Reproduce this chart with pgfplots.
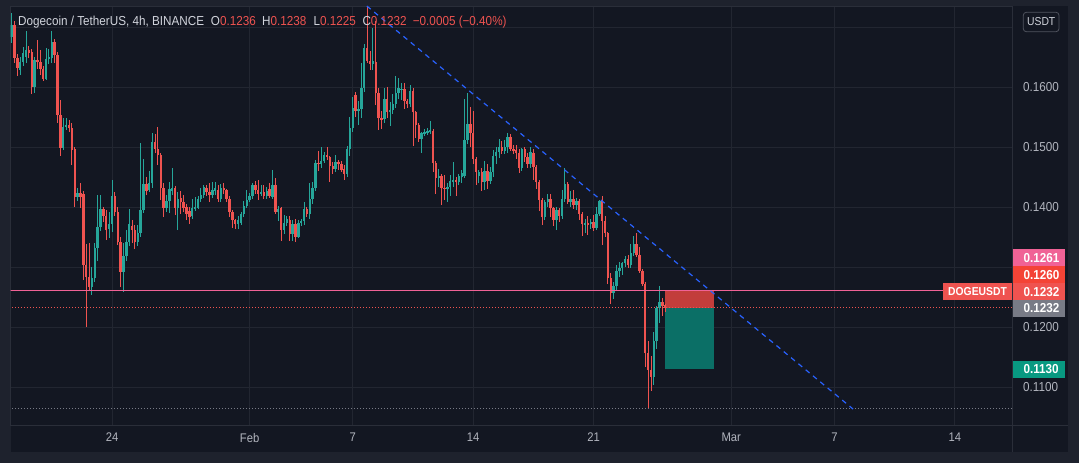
\documentclass[border=0pt]{standalone}
\usepackage{pgfplots}
\pgfplotsset{compat=1.18}
\usepackage{pgfplotstable}
\usepackage{fontspec}
\setmainfont{Liberation Sans}[FakeStretch=0.9]
\definecolor{outerbg}{HTML}{1E222D}
\definecolor{chartbg}{HTML}{131722}
\definecolor{gridc}{HTML}{222631}
\definecolor{sepc}{HTML}{2A2E39}
\definecolor{upc}{HTML}{26A69A}
\definecolor{dnc}{HTML}{EF5350}
\definecolor{txt}{HTML}{D1D4DC}
\definecolor{axtxt}{HTML}{B2B5BE}
\definecolor{pinkc}{HTML}{F06296}
\definecolor{stopc}{HTML}{F44336}
\definecolor{grayc}{HTML}{787B86}
\definecolor{tealc}{HTML}{089981}
\definecolor{redbox}{HTML}{C23D3B}
\definecolor{tealbox}{HTML}{0B6F66}
\definecolor{trendc}{HTML}{2962FF}
\definecolor{btnc}{HTML}{50535E}

\pgfplotstableread{
k o h l c
-35 0.1684 0.1723 0.1674 0.1703
-32 0.1628 0.1650 0.1620 0.1642
-31 0.1642 0.1667 0.1635 0.1656
-30 0.1650 0.1694 0.1640 0.1661
-27 0.1600 0.1650 0.1590 0.1645
-23 0.1614 0.1665 0.1611 0.1647
-22 0.1647 0.1663 0.1638 0.1650
-21 0.1648 0.1693 0.1640 0.1675
-17 0.1498 0.1548 0.1495 0.1534
-16 0.1534 0.1548 0.1528 0.1537
-12 0.1417 0.1432 0.1410 0.1424
-7 0.1266 0.1300 0.1253 0.1281
-6 0.1281 0.1340 0.1275 0.1331
-5 0.1331 0.1420 0.1310 0.1366
-4 0.1366 0.1420 0.1360 0.1396
-1 0.1363 0.1392 0.1349 0.1372
0 0.1372 0.1445 0.1358 0.1418
4 0.1292 0.1340 0.1258 0.1318
5 0.1318 0.1361 0.1310 0.1342
6 0.1342 0.1397 0.1335 0.1372
9 0.1342 0.1370 0.1335 0.1356
10 0.1356 0.1506 0.1350 0.1395
11 0.1395 0.1480 0.1390 0.1438
13 0.1428 0.1460 0.1425 0.1440
14 0.1440 0.1524 0.1432 0.1508
19 0.1398 0.1420 0.1391 0.1410
20 0.1410 0.1441 0.1390 0.1430
21 0.1426 0.1465 0.1420 0.1432
23 0.1398 0.1425 0.1362 0.1413
28 0.1385 0.1413 0.1380 0.1398
29 0.1398 0.1416 0.1393 0.1400
30 0.1399 0.1418 0.1397 0.1413
31 0.1413 0.1432 0.1408 0.1420
32 0.1420 0.1437 0.1415 0.1433
35 0.1420 0.1442 0.1415 0.1428
36 0.1427 0.1441 0.1420 0.1431
38 0.1413 0.1438 0.1408 0.1431
44 0.1372 0.1385 0.1364 0.1379
45 0.1374 0.1392 0.1370 0.1388
46 0.1388 0.1410 0.1383 0.1402
47 0.1402 0.1428 0.1398 0.1412
48 0.1412 0.1423 0.1408 0.1418
49 0.1418 0.1440 0.1414 0.1437
52 0.1421 0.1436 0.1418 0.1425
54 0.1418 0.1433 0.1414 0.1427
56 0.1417 0.1462 0.1413 0.1437
58 0.1391 0.1402 0.1377 0.1397
60 0.1362 0.1387 0.1355 0.1373
61 0.1373 0.1385 0.1368 0.1380
63 0.1355 0.1378 0.1343 0.1372
65 0.1350 0.1378 0.1348 0.1373
66 0.1373 0.1380 0.1368 0.1376
67 0.1376 0.1408 0.1370 0.1397
69 0.1388 0.1440 0.1380 0.1413
70 0.1413 0.1442 0.1405 0.1432
71 0.1432 0.1478 0.1426 0.1473
73 0.1472 0.1500 0.1465 0.1477
74 0.1477 0.1492 0.1474 0.1487
78 0.1463 0.1487 0.1458 0.1475
82 0.1455 0.1502 0.1450 0.1497
83 0.1497 0.1550 0.1485 0.1532
84 0.1532 0.1583 0.1525 0.1565
86 0.1560 0.1577 0.1537 0.1564
87 0.1564 0.1640 0.1548 0.1598
88 0.1598 0.1672 0.1592 0.1665
91 0.1639 0.1698 0.1628 0.1643
95 0.1547 0.1598 0.1540 0.1580
97 0.1558 0.1575 0.1535 0.1562
98 0.1562 0.1588 0.1555 0.1572
99 0.1572 0.1618 0.1565 0.1590
100 0.1590 0.1615 0.1580 0.1598
101 0.1595 0.1607 0.1579 0.1597
104 0.1571 0.1604 0.1567 0.1593
108 0.1513 0.1525 0.1490 0.1523
109 0.1523 0.1530 0.1518 0.1525
110 0.1524 0.1532 0.1520 0.1526
111 0.1526 0.1543 0.1522 0.1528
114 0.1448 0.1463 0.1433 0.1451
117 0.1431 0.1440 0.1409 0.1434
118 0.1434 0.1453 0.1418 0.1443
119 0.1443 0.1475 0.1433 0.1445
121 0.1441 0.1455 0.1436 0.1452
122 0.1450 0.1462 0.1440 0.1456
123 0.1452 0.1580 0.1448 0.1512
124 0.1512 0.1590 0.1505 0.1539
128 0.1451 0.1462 0.1440 0.1458
130 0.1441 0.1477 0.1428 0.1460
132 0.1443 0.1467 0.1438 0.1458
133 0.1458 0.1495 0.1450 0.1485
134 0.1485 0.1500 0.1472 0.1491
135 0.1491 0.1513 0.1482 0.1500
137 0.1493 0.1512 0.1488 0.1500
138 0.1500 0.1523 0.1490 0.1517
143 0.1465 0.1499 0.1460 0.1496
146 0.1472 0.1500 0.1465 0.1491
151 0.1383 0.1411 0.1378 0.1408
152 0.1408 0.1422 0.1400 0.1413
155 0.1378 0.1400 0.1362 0.1395
157 0.1385 0.1429 0.1380 0.1413
158 0.1413 0.1465 0.1408 0.1439
160 0.1408 0.1427 0.1400 0.1413
162 0.1404 0.1415 0.1395 0.1410
165 0.1371 0.1380 0.1356 0.1374
167 0.1371 0.1380 0.1363 0.1375
169 0.1365 0.1400 0.1362 0.1389
170 0.1389 0.1412 0.1385 0.1410
175 0.1256 0.1275 0.1246 0.1268
176 0.1268 0.1303 0.1262 0.1294
177 0.1294 0.1308 0.1284 0.1298
178 0.1298 0.1309 0.1287 0.1306
179 0.1306 0.1318 0.1300 0.1313
181 0.1303 0.1339 0.1298 0.1324
182 0.1324 0.1352 0.1318 0.1339
189 0.1117 0.1192 0.1103 0.1177
190 0.1177 0.1235 0.1164 0.1231
191 0.1231 0.1268 0.1206 0.1241
}\upcandles

\pgfplotstableread{
k o h l c
-34 0.1703 0.1710 0.1640 0.1649
-33 0.1649 0.1655 0.1619 0.1631
-29 0.1661 0.1668 0.1648 0.1656
-28 0.1659 0.1664 0.1589 0.1600
-26 0.1645 0.1678 0.1630 0.1641
-25 0.1641 0.1662 0.1620 0.1630
-24 0.1630 0.1635 0.1610 0.1614
-20 0.1675 0.1680 0.1640 0.1654
-19 0.1654 0.1658 0.1540 0.1553
-18 0.1553 0.1578 0.1485 0.1498
-15 0.1537 0.1545 0.1525 0.1531
-14 0.1532 0.1540 0.1470 0.1495
-13 0.1496 0.1500 0.1400 0.1417
-11 0.1423 0.1440 0.1398 0.1417
-10 0.1422 0.1426 0.1278 0.1303
-9 0.1303 0.1339 0.1200 0.1283
-8 0.1283 0.1340 0.1262 0.1266
-3 0.1396 0.1400 0.1375 0.1385
-2 0.1385 0.1395 0.1345 0.1362
1 0.1418 0.1425 0.1385 0.1392
2 0.1392 0.1400 0.1336 0.1342
3 0.1342 0.1350 0.1267 0.1292
7 0.1368 0.1378 0.1340 0.1362
8 0.1362 0.1370 0.1330 0.1342
12 0.1438 0.1450 0.1420 0.1426
15 0.1508 0.1522 0.1490 0.1496
16 0.1496 0.1533 0.1470 0.1487
17 0.1487 0.1490 0.1412 0.1431
18 0.1431 0.1440 0.1384 0.1398
22 0.1432 0.1435 0.1387 0.1398
24 0.1415 0.1426 0.1388 0.1409
25 0.1409 0.1420 0.1392 0.1398
26 0.1400 0.1405 0.1378 0.1389
27 0.1394 0.1400 0.1372 0.1384
33 0.1432 0.1437 0.1418 0.1425
34 0.1425 0.1440 0.1408 0.1420
37 0.1429 0.1436 0.1409 0.1413
39 0.1431 0.1440 0.1422 0.1428
40 0.1428 0.1430 0.1408 0.1413
41 0.1413 0.1418 0.1384 0.1391
42 0.1391 0.1395 0.1365 0.1378
43 0.1378 0.1380 0.1364 0.1372
50 0.1437 0.1443 0.1422 0.1428
51 0.1428 0.1445 0.1412 0.1421
53 0.1425 0.1436 0.1414 0.1418
55 0.1430 0.1440 0.1415 0.1419
57 0.1437 0.1448 0.1388 0.1391
59 0.1398 0.1400 0.1344 0.1362
62 0.1379 0.1385 0.1344 0.1355
64 0.1372 0.1380 0.1342 0.1350
68 0.1397 0.1400 0.1384 0.1388
72 0.1474 0.1493 0.1460 0.1472
75 0.1487 0.1500 0.1478 0.1483
76 0.1483 0.1485 0.1442 0.1468
77 0.1468 0.1475 0.1455 0.1463
79 0.1475 0.1478 0.1462 0.1472
80 0.1472 0.1477 0.1458 0.1461
81 0.1463 0.1470 0.1445 0.1455
85 0.1587 0.1592 0.1550 0.1560
89 0.1665 0.1734 0.1640 0.1643
90 0.1643 0.1660 0.1628 0.1639
92 0.1641 0.1710 0.1570 0.1590
93 0.1590 0.1598 0.1528 0.1548
94 0.1548 0.1560 0.1530 0.1547
96 0.1580 0.1600 0.1548 0.1558
102 0.1596 0.1607 0.1564 0.1576
103 0.1576 0.1580 0.1565 0.1571
105 0.1593 0.1598 0.1501 0.1558
106 0.1558 0.1560 0.1515 0.1537
107 0.1537 0.1540 0.1509 0.1513
112 0.1527 0.1530 0.1458 0.1474
113 0.1474 0.1476 0.1421 0.1448
115 0.1451 0.1455 0.1404 0.1432
116 0.1432 0.1453 0.1412 0.1431
120 0.1445 0.1450 0.1418 0.1441
125 0.1539 0.1567 0.1500 0.1524
126 0.1524 0.1560 0.1472 0.1480
127 0.1480 0.1484 0.1437 0.1459
129 0.1458 0.1465 0.1427 0.1441
131 0.1460 0.1472 0.1430 0.1443
136 0.1500 0.1510 0.1488 0.1493
139 0.1517 0.1522 0.1494 0.1497
140 0.1497 0.1503 0.1488 0.1494
141 0.1495 0.1503 0.1480 0.1490
142 0.1490 0.1497 0.1456 0.1465
144 0.1496 0.1500 0.1475 0.1483
145 0.1483 0.1490 0.1465 0.1472
147 0.1490 0.1496 0.1445 0.1467
148 0.1467 0.1470 0.1430 0.1441
149 0.1441 0.1445 0.1393 0.1411
150 0.1411 0.1415 0.1370 0.1383
153 0.1413 0.1422 0.1384 0.1398
154 0.1398 0.1400 0.1368 0.1378
156 0.1395 0.1398 0.1375 0.1385
159 0.1439 0.1441 0.1405 0.1408
161 0.1413 0.1429 0.1397 0.1404
163 0.1410 0.1413 0.1379 0.1388
164 0.1388 0.1392 0.1351 0.1371
166 0.1373 0.1385 0.1353 0.1371
168 0.1375 0.1386 0.1360 0.1365
171 0.1410 0.1419 0.1337 0.1377
172 0.1377 0.1385 0.1350 0.1356
173 0.1356 0.1359 0.1272 0.1281
174 0.1282 0.1290 0.1239 0.1256
180 0.1313 0.1320 0.1298 0.1303
183 0.1339 0.1356 0.1316 0.1320
184 0.1320 0.1334 0.1290 0.1293
185 0.1293 0.1296 0.1268 0.1272
186 0.1272 0.1275 0.1134 0.1157
187 0.1157 0.1176 0.10645 0.1129
188 0.1129 0.1152 0.1093 0.1117
192 0.1241 0.1249 0.1218 0.1235
193 0.1236 0.1238 0.1225 0.1232
}\dncandles

\pgfplotsset{
  candle/.style 2 args={draw=none, mark=none, forget plot,
    error bars/.cd, y dir=both, y explicit, error mark=none,
    error bar style={line width=#1, line cap=butt, draw=#2}, /pgfplots/.cd},
}

\begin{document}
\begin{tikzpicture}[x=1pt,y=1pt]
\useasboundingbox (0,0) rectangle (1079,463);
\fill[outerbg] (0,0) rectangle (1079,463);
\fill[chartbg] (10.7,11) rectangle (1068,457);
\begin{axis}[
  at={(10.7pt,38pt)}, anchor=south west,
  scale only axis, width=1001.3pt, height=419pt,
  xmin=-35.34, xmax=313.95, ymin=0.10367, ymax=0.1735,
  axis line style={draw=sepc, line width=0.8pt},
  grid=major, grid style={draw=gridc, line width=0.8pt},
  major tick length=0pt,
  xtick={0,48,84,126,168,216,252,294},
  xticklabels={24,Feb,7,14,21,Mar,7,14},
  ytick={0.11,0.12,0.13,0.14,0.15,0.16,0.17},
  yticklabels={0.1100,0.1200,,0.1400,0.1500,0.1600,},
  yticklabel pos=right,
  yticklabel style={anchor=west, inner sep=0pt, xshift=11pt,
    font=\fontsize{13}{15}\selectfont, text=axtxt},
  xticklabel style={anchor=north, inner sep=0pt, yshift=-8pt,
    font=\fontsize{12.5}{14}\selectfont, text=axtxt},
]
% position boxes
\fill[redbox] (axis cs:192.9,0.1232) rectangle (axis cs:210,0.1260);
\fill[tealbox] (axis cs:192.9,0.1130) rectangle (axis cs:210,0.1232);
% gray dotted low line
\addplot[grayc, line width=1pt, dash pattern=on 1pt off 2pt, forget plot] coordinates {(-40,0.10645) (320,0.10645)};
% wicks
\addplot[candle={0.9pt}{upc}]
  table[x=k, y expr={(\thisrow{h}+\thisrow{l})/2}, y error expr={(\thisrow{h}-\thisrow{l})/2}] {\upcandles};
\addplot[candle={0.9pt}{dnc}]
  table[x=k, y expr={(\thisrow{h}+\thisrow{l})/2}, y error expr={(\thisrow{h}-\thisrow{l})/2}] {\dncandles};
% bodies
\addplot[candle={2.4pt}{upc}]
  table[x=k, y expr={(\thisrow{o}+\thisrow{c})/2}, y error expr={max(abs(\thisrow{c}-\thisrow{o})/2,0.00008)}] {\upcandles};
\addplot[candle={2.4pt}{dnc}]
  table[x=k, y expr={(\thisrow{o}+\thisrow{c})/2}, y error expr={max(abs(\thisrow{c}-\thisrow{o})/2,0.00008)}] {\dncandles};
% horizontal lines
\addplot[pinkc, line width=1pt, forget plot] coordinates {(-40,0.1261) (320,0.1261)};
\addplot[dnc, line width=1pt, dash pattern=on 1pt off 2pt, forget plot] coordinates {(-40,0.1232) (320,0.1232)};
% trend line
\addplot[trendc, line width=1.2pt, dash pattern=on 5pt off 4.5pt, forget plot] coordinates {(88.9,0.1735) (258.5,0.10633)};
\end{axis}
% separators
\draw[sepc, line width=0.8pt] (1012,11) -- (1012,457);
\draw[sepc, line width=0.8pt] (10.7,38) -- (1068,38);
% header
\begin{scope}[every node/.style={inner sep=0pt, anchor=base west, font=\fontsize{13}{15}\selectfont}]
\node[text=txt] at (18,437.7) {Dogecoin / TetherUS, 4h, BINANCE};
\node at (210.7,437.7) {\textcolor{txt}{O}\textcolor{dnc}{0.1236}};
\node at (262,437.7) {\textcolor{txt}{H}\textcolor{dnc}{0.1238}};
\node at (313.3,437.7) {\textcolor{txt}{L}\textcolor{dnc}{0.1225}};
\node at (362.3,437.7) {\textcolor{txt}{C}\textcolor{dnc}{0.1232}};
\node[text=dnc] at (412.7,437.7) {−0.0005 (−0.40\%)};
\end{scope}
% USDT button
\filldraw[fill=chartbg, draw=btnc, line width=0.8pt, rounded corners=3pt] (1023.3,431.3) rectangle (1059,450.7);
\node[text=txt, inner sep=0pt, font=\fontsize{11.5}{13}\selectfont] at (1041.2,441) {USDT};
% DOGEUSDT label
\fill[dnc] (943.3,163) rectangle (1011.7,179.7);
\node[text=white, inner sep=0pt, font=\bfseries\fontsize{11.5}{13}\selectfont] at (977.5,171.3) {DOGEUSDT};
% price tags
\begin{scope}[every node/.style={inner sep=0pt, anchor=west, text=white, font=\bfseries\fontsize{13}{15}\selectfont}]
\fill[pinkc] (1013.3,196.7) rectangle (1065,213.7);
\node at (1023.3,205.2) {0.1261};
\fill[stopc] (1013.3,179.7) rectangle (1065,196.7);
\node at (1023.3,188.2) {0.1260};
\fill[dnc] (1013.3,163) rectangle (1065,179.7);
\node at (1023.3,171.3) {0.1232};
\fill[grayc] (1013.3,146.3) rectangle (1065,163);
\node at (1023.3,154.6) {0.1232};
\fill[tealc] (1013.3,85.3) rectangle (1065,102);
\node at (1023.3,93.7) {0.1130};
\end{scope}
\end{tikzpicture}
\end{document}
